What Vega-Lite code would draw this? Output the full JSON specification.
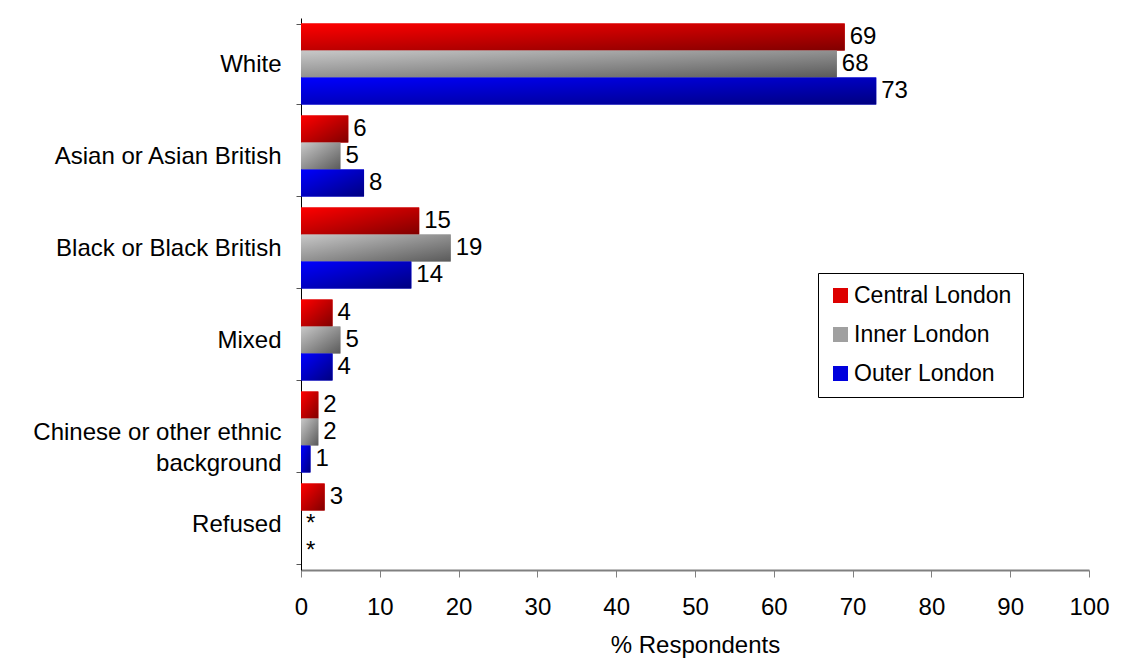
{
  "$schema": "https://vega.github.io/schema/vega-lite/v6.json",
  "width": 788,
  "height": 552,
  "autosize": {"type": "none"},
  "padding": {"left": 301, "top": 18, "right": 50, "bottom": 93},
  "background": "white",
  "config": {
    "font": "Liberation Sans",
    "view": {"stroke": null},
    "axis": {"labelFont": "Liberation Sans", "titleFont": "Liberation Sans", "labelColor": "#000", "titleColor": "#000", "grid": false}
  },
  "data": {
    "values": [
      {"group": "White", "series": "Central London", "value": 69, "label": "69"},
      {"group": "White", "series": "Inner London", "value": 68, "label": "68"},
      {"group": "White", "series": "Outer London", "value": 73, "label": "73"},
      {"group": "Asian or Asian British", "series": "Central London", "value": 6, "label": "6"},
      {"group": "Asian or Asian British", "series": "Inner London", "value": 5, "label": "5"},
      {"group": "Asian or Asian British", "series": "Outer London", "value": 8, "label": "8"},
      {"group": "Black or Black British", "series": "Central London", "value": 15, "label": "15"},
      {"group": "Black or Black British", "series": "Inner London", "value": 19, "label": "19"},
      {"group": "Black or Black British", "series": "Outer London", "value": 14, "label": "14"},
      {"group": "Mixed", "series": "Central London", "value": 4, "label": "4"},
      {"group": "Mixed", "series": "Inner London", "value": 5, "label": "5"},
      {"group": "Mixed", "series": "Outer London", "value": 4, "label": "4"},
      {"group": "Chinese or other ethnic background", "series": "Central London", "value": 2.2, "label": "2"},
      {"group": "Chinese or other ethnic background", "series": "Inner London", "value": 2.2, "label": "2"},
      {"group": "Chinese or other ethnic background", "series": "Outer London", "value": 1.2, "label": "1"},
      {"group": "Refused", "series": "Central London", "value": 3, "label": "3"},
      {"group": "Refused", "series": "Inner London", "value": 0, "label": "*"},
      {"group": "Refused", "series": "Outer London", "value": 0, "label": "*"}
    ]
  },
  "encoding": {
    "y": {
      "field": "group",
      "type": "nominal",
      "sort": ["White", "Asian or Asian British", "Black or Black British", "Mixed", "Chinese or other ethnic background", "Refused"],
      "scale": {"paddingInner": 0.12, "paddingOuter": 0.06},
      "axis": {
        "title": null,
        "labelFontSize": 24,
        "labelPadding": 15,
        "labelLimit": 400,
        "tickSize": 5,
        "tickColor": "#555555",
        "domainColor": "#000000",
        "tickBand": "extent",
        "labelLineHeight": 31,
        "labelExpr": "datum.value == 'Chinese or other ethnic background' ? ['Chinese or other ethnic', 'background'] : datum.value"
      }
    },
    "yOffset": {
      "field": "series",
      "type": "nominal",
      "scale": {"domain": ["Central London", "Inner London", "Outer London"], "paddingInner": 0, "paddingOuter": 0}
    },
    "x": {
      "field": "value",
      "type": "quantitative",
      "scale": {"domain": [0, 100], "nice": false},
      "axis": {
        "title": "% Respondents",
        "titleFontSize": 24,
        "titleFontWeight": "normal",
        "titlePadding": 14,
        "labelFontSize": 24,
        "labelPadding": 18,
        "labelFlush": false,
        "values": [0, 10, 20, 30, 40, 50, 60, 70, 80, 90, 100],
        "tickSize": 7,
        "tickColor": "#808080",
        "domainColor": "#808080",
        "domainWidth": 2
      }
    }
  },
  "layer": [
    {
      "mark": {"type": "bar"},
      "encoding": {
        "color": {
          "field": "series",
          "type": "nominal",
          "scale": {"domain": ["Central London", "Inner London", "Outer London"], "range": ["#dd0000", "#a0a0a0", "#0000dd"]},
          "legend": {
            "orient": "none",
            "legendX": 517,
            "legendY": 255,
            "title": null,
            "strokeColor": "#000000",
            "fillColor": "#ffffff",
            "padding": 11,
            "labelFontSize": 23,
            "labelFont": "Liberation Sans",
            "labelColor": "#000000",
            "labelLimit": 400,
            "symbolType": "square",
            "symbolSize": 225,
            "symbolStrokeWidth": 0,
            "rowPadding": 15,
            "labelOffset": 2
          }
        }
      }
    },
    {
      "mark": {"type": "bar"},
      "encoding": {
        "color": {
          "condition": [
            {"test": "datum.series === 'Central London'", "value": {"gradient": "linear", "x1": 0, "y1": 0, "x2": 1, "y2": 1, "stops": [{"offset": 0, "color": "#ff0000"}, {"offset": 1, "color": "#800000"}]}},
            {"test": "datum.series === 'Inner London'", "value": {"gradient": "linear", "x1": 0, "y1": 0, "x2": 1, "y2": 1, "stops": [{"offset": 0, "color": "#c8c8c8"}, {"offset": 1, "color": "#5a5a5a"}]}}
          ],
          "value": {"gradient": "linear", "x1": 0, "y1": 0, "x2": 1, "y2": 1, "stops": [{"offset": 0, "color": "#0000ff"}, {"offset": 1, "color": "#000080"}]}
        }
      }
    },
    {
      "mark": {"type": "text", "align": "left", "baseline": "middle", "dx": 5, "fontSize": 24, "font": "Liberation Sans", "color": "#000000"},
      "encoding": {
        "text": {"field": "label", "type": "nominal"}
      }
    }
  ]
}
